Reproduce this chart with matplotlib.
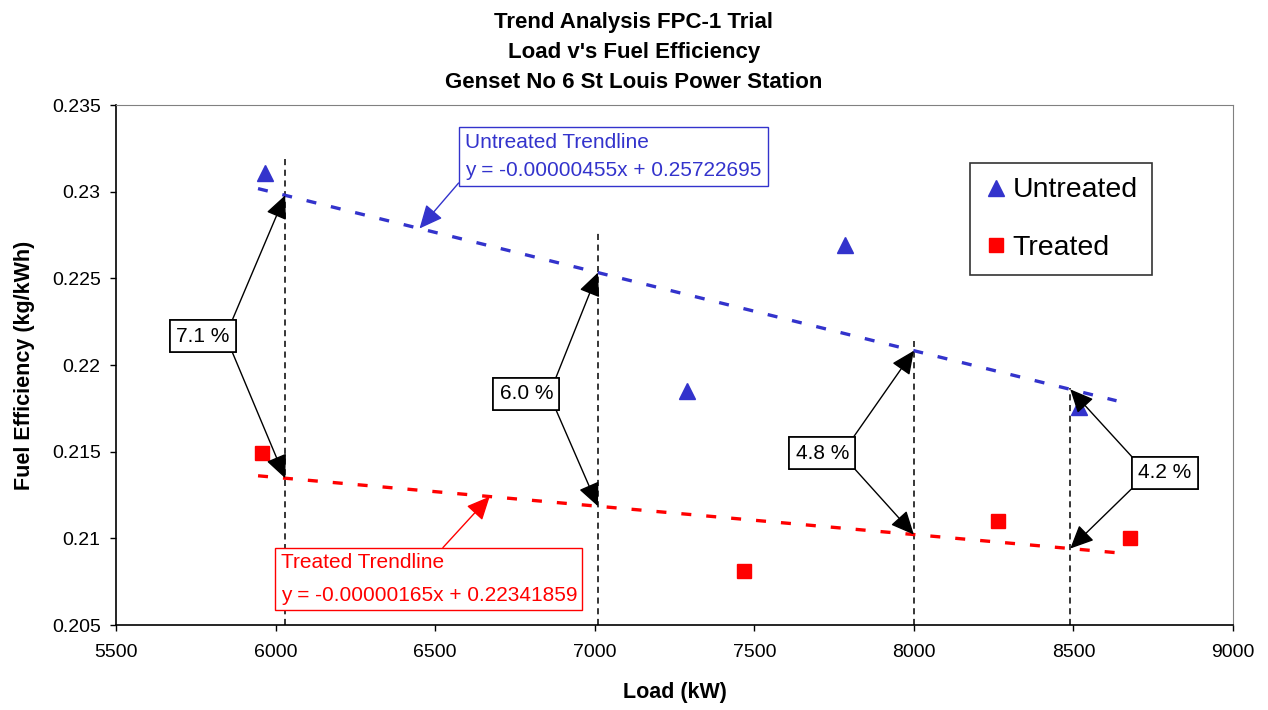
import matplotlib
matplotlib.use('Agg')
import matplotlib.pyplot as plt
import numpy as np

plt.rcParams['font.family'] = ['Liberation Sans', 'DejaVu Sans']

# data
untreated_load = [5966, 7290, 7785, 8517]
untreated_eff = [0.2311, 0.2185, 0.2269, 0.2176]
treated_load = [5957, 7469, 8264, 8677]
treated_eff = [0.2149, 0.2081, 0.2110, 0.2100]

# trendline equations as printed on the chart
untreated_slope, untreated_icpt = -0.00000455, 0.25722695
treated_slope, treated_icpt = -0.00000165, 0.22341859
trend_span = [5945, 8635]

# comparison points
cmp_load = [6030, 7010, 8000, 8490]
cmp_top = [0.2320, 0.2278, 0.2214, 0.2187]
cmp_labels = ['7.1 %', '6.0 %', '4.8 %', '4.2 %']
cmp_box = [(5772, 0.22167), (6786, 0.21833), (7713, 0.21492), (8786, 0.21377)]

xticks = [5500, 6000, 6500, 7000, 7500, 8000, 8500, 9000]
yticks = [0.205, 0.21, 0.215, 0.22, 0.225, 0.23, 0.235]
ytick_labels = ['0.205', '0.21', '0.215', '0.22', '0.225', '0.23', '0.235']

blue = '#3333cc'
red = '#ff0000'

fig = plt.figure(figsize=(12.68, 7.10), dpi=100)
ax = fig.add_axes([0.0915, 0.1197, 0.8809, 0.7324])

def trend(x, m, c):
    return m * np.asarray(x, dtype=float) + c

tx = np.array(trend_span, dtype=float)
ax.plot(tx, trend(tx, untreated_slope, untreated_icpt), color=blue, lw=2.4,
        dashes=(3, 4.5), dash_capstyle='butt', zorder=2)
ax.plot(tx, trend(tx, treated_slope, treated_icpt), color=red, lw=2.4,
        dashes=(3, 4.5), dash_capstyle='butt', zorder=2)

ax.vlines(cmp_load, 0.205, cmp_top, colors='black', lw=1.1,
          linestyles=(0, (4, 3)), zorder=1)

ax.plot(untreated_load, untreated_eff, '^', color=blue, ms=11, ls='none',
        label='Untreated', zorder=3)
ax.plot(treated_load, treated_eff, 's', color=red, ms=10.5, ls='none',
        label='Treated', zorder=3)

head = '-|>,head_length=1.2,head_width=0.55'
for i, (x, lab) in enumerate(zip(cmp_load, cmp_labels)):
    up = trend(x, untreated_slope, untreated_icpt)
    lo = trend(x, treated_slope, treated_icpt)
    bx, by = cmp_box[i]
    side = 0 if bx > x else 1
    box = dict(boxstyle='square,pad=0.3', fc='white', ec='black', lw=1.2)
    ax.annotate(lab, xy=(x, up), xytext=(bx, by), ha='center', va='center',
                fontsize=15, bbox=box, zorder=5,
                arrowprops=dict(arrowstyle=head, color='black', lw=1,
                                mutation_scale=12, shrinkA=0, shrinkB=0,
                                relpos=(side, 1)))
    ax.annotate(lab, xy=(x, lo), xytext=(bx, by), ha='center', va='center',
                fontsize=15, bbox=box, zorder=5,
                arrowprops=dict(arrowstyle=head, color='black', lw=1,
                                mutation_scale=12, shrinkA=0, shrinkB=0,
                                relpos=(side, 0)))

# trendline labels
ux = 6451
ax.annotate('Untreated Trendline\ny = -0.00000455x + 0.25722695',
            xy=(ux, trend(ux, untreated_slope, untreated_icpt)),
            xytext=(7059, 0.23203), ha='center', va='center', fontsize=15,
            color=blue, linespacing=1.6, multialignment='left',
            bbox=dict(boxstyle='square,pad=0.3', fc='white', ec=blue, lw=1),
            arrowprops=dict(arrowstyle='-|>,head_length=1.2,head_width=0.55',
                            color=blue, lw=1, mutation_scale=12, shrinkA=0,
                            shrinkB=0, relpos=(0.02, 0.25)), zorder=5)
rx = 6671
ax.annotate('Treated Trendline\ny = -0.00000165x + 0.22341859',
            xy=(rx, trend(rx, treated_slope, treated_icpt)),
            xytext=(6480, 0.20765), ha='center', va='center', fontsize=15,
            color=red, linespacing=1.9, multialignment='left',
            bbox=dict(boxstyle='square,pad=0.25', fc='white', ec=red, lw=1),
            arrowprops=dict(arrowstyle='-|>,head_length=1.2,head_width=0.55',
                            color=red, lw=1, mutation_scale=12, shrinkA=0,
                            shrinkB=0, relpos=(0.53, 1)), zorder=5)

ax.set_xlim(5500, 9000)
ax.set_ylim(0.205, 0.235)
ax.set_xticks(xticks)
ax.set_yticks(yticks)
ax.set_yticklabels(ytick_labels)
ax.tick_params(direction='out', length=4, labelsize=14, width=1, pad=7)
ax.tick_params(axis='x', pad=10)
for s in ['top', 'right']:
    ax.spines[s].set_color('#808080')
for s in ['left', 'bottom']:
    ax.spines[s].set_linewidth(1.2)

ax.set_xlabel('Load (kW)', fontsize=15.5, fontweight='bold', labelpad=15)
ax.set_ylabel('Fuel Efficiency (kg/kWh)', fontsize=15.5, fontweight='bold', labelpad=12)
fig.suptitle("Trend Analysis FPC-1 Trial\nLoad v's Fuel Efficiency\nGenset No 6 St Louis Power Station",
             fontsize=16, fontweight='bold', y=0.983, linespacing=1.55)

leg = ax.legend(loc='upper left', bbox_to_anchor=(0.7645, 0.888), fontsize=20.5,
                frameon=True, fancybox=False, edgecolor='black',
                labelspacing=1.1, handletextpad=0.2, handlelength=0.8,
                borderpad=0.5, borderaxespad=0, markerscale=1.0)
leg.get_frame().set_linewidth(1.2)

fig.savefig('out.png', dpi=100)
